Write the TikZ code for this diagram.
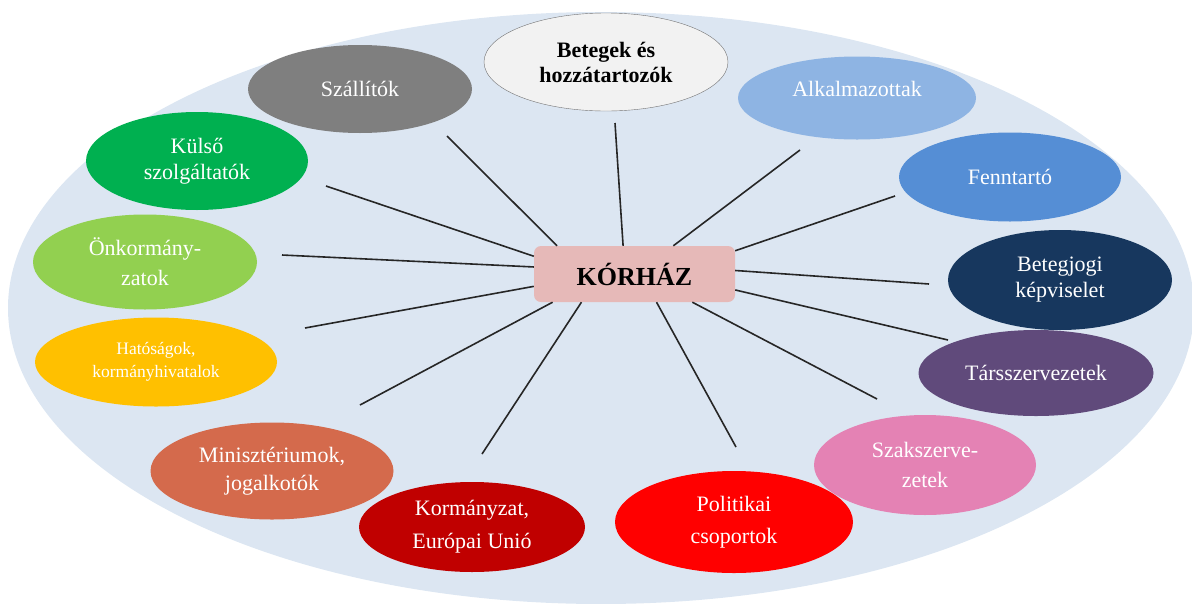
\documentclass[tikz,border=0pt]{standalone}
\usepackage{fontspec}
\setmainfont{Liberation Serif}
\usetikzlibrary{shapes.geometric, positioning}

\definecolor{bgblue}{HTML}{DCE6F2}
\definecolor{hubpink}{HTML}{E6B9B8}

\begin{document}
\begin{tikzpicture}[
    x=1pt, y=-1pt,
    grp/.style={ellipse, inner sep=0pt, text=white, align=center, font=\fontsize{22}{26}\selectfont},
    hub/.style={rectangle, rounded corners=7pt, fill=hubpink, minimum width=201pt, minimum height=56pt, font=\fontsize{26}{30}\selectfont\bfseries},
    spoke/.style={draw=black!85, line width=1.6pt}
  ]

  \useasboundingbox (0,0) rectangle (1192,603);
  \fill[bgblue] (601,308) ellipse [x radius=593, y radius=296];

  \node[hub] (hub) at (634.5,274) {KÓRHÁZ};

  \node[grp, fill={rgb,255:red,127;green,127;blue,127}, minimum width=224pt, minimum height=88pt] (szal) at (360,89) {Szállítók};
  \node[grp, fill={rgb,255:red,242;green,242;blue,242}, draw=black!55, text=black, font=\fontsize{22}{25}\selectfont\bfseries, minimum width=244pt, minimum height=98pt] (beteg) at (606,62) {Betegek és\\hozzátartozók};
  \node[grp, fill={rgb,255:red,142;green,180;blue,227}, text depth=18pt, minimum width=238pt, minimum height=83pt] (alk) at (857,98) {Alkalmazottak};
  \node[grp, fill={rgb,255:red,85;green,142;blue,213}, minimum width=222pt, minimum height=89pt] (fenn) at (1010,177) {Fenntartó};
  \node[grp, fill={rgb,255:red,23;green,55;blue,94}, minimum width=224pt, minimum height=100pt] (bjog) at (1060,280) {Betegjogi\\képviselet};
  \node[grp, fill={rgb,255:red,96;green,74;blue,123}, minimum width=235pt, minimum height=86pt] (tars) at (1036,373) {Társszervezetek};
  \node[grp, fill={rgb,255:red,228;green,130;blue,180}, minimum width=222pt, minimum height=100pt] (szak) at (925,465) {Szakszerve-\\[4pt]zetek};
  \node[grp, fill={rgb,255:red,255;green,0;blue,0}, minimum width=238pt, minimum height=102pt] (pol) at (734,522) {Politikai\\[6pt]csoportok};
  \node[grp, fill={rgb,255:red,192;green,0;blue,0}, minimum width=226pt, minimum height=90pt] (korm) at (472,527) {Kormányzat,\\[7pt]Európai Unió};
  \node[grp, fill={rgb,255:red,212;green,106;blue,76}, minimum width=243pt, minimum height=97pt] (min) at (272,471) {Minisztériumok,\\[2pt]jogalkotók};
  \node[grp, fill={rgb,255:red,255;green,192;blue,0}, font=\fontsize{17.5}{23}\selectfont, minimum width=242pt, minimum height=89pt] (hat) at (156,362) {Hatóságok,\\kormányhivatalok};
  \node[grp, fill={rgb,255:red,146;green,208;blue,80}, minimum width=224pt, minimum height=95pt] (onk) at (145,262) {Önkormány-\\[4pt]zatok};
  \node[grp, fill={rgb,255:red,0;green,176;blue,80}, minimum width=222pt, minimum height=98pt] (kuls) at (197,161) {Külső\\szolgáltatók};

  \foreach \n/\a/\x/\y in {szal/160.8/447/136, beteg/112.3/615/123, alk/36/800/150,
      fenn/13.4/895/196, bjog/2.3/929/284, tars/-9/948/340, szak/-26.8/877/399,
      pol/-52.5/736/447, korm/208.1/482/454, min/199.4/360/405, hat/187.9/305/328,
      onk/176.6/282/255, kuls/170.4/326/186} {
      \coordinate (e-\n) at (\x,\y);
      \draw[spoke] (hub.\a) -- (e-\n);
    }

\end{tikzpicture}
\end{document}
